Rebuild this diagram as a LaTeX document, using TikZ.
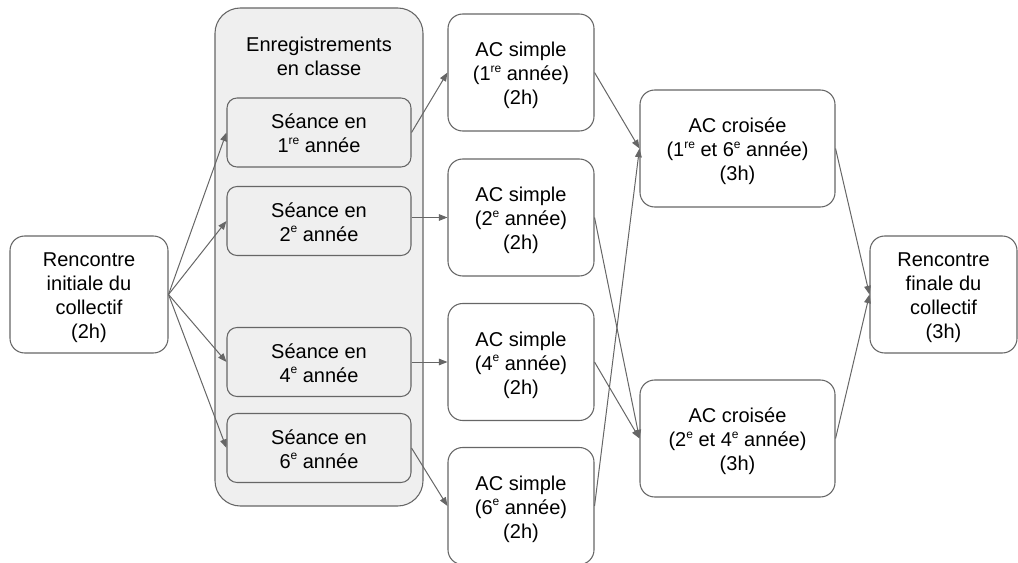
\documentclass[tikz,border=0pt]{standalone}
\usepackage{fontspec}
\setmainfont{Liberation Sans}
\usetikzlibrary{arrows.meta}
\definecolor{edgegray}{HTML}{666666}
\definecolor{boxfill}{HTML}{EFEFEF}
\newcommand\ts{\rule{0pt}{15.5pt}}
\newcommand\bs{\rule[-3.2pt]{0pt}{3.2pt}}
\newcommand\supx[1]{\raisebox{0.42em}{\fontsize{9pt}{9pt}\selectfont #1}}
\begin{document}
\begin{tikzpicture}[x=0.75pt,y=-0.75pt,
  every node/.style={font=\fontsize{15pt}{18pt}\selectfont, text=black, align=center, inner sep=0pt},
  box/.style={draw=edgegray, line width=0.8pt, rounded corners=11pt, fill=white, minimum height=87.75pt},
  simplebox/.style={box, minimum width=109.5pt},
  crossbox/.style={box, minimum width=146.25pt},
  seancebox/.style={draw=edgegray, line width=0.8pt, rounded corners=7.5pt, fill=boxfill, minimum width=138pt, minimum height=51.75pt},
  groupbox/.style={draw=edgegray, line width=0.8pt, rounded corners=19pt, fill=boxfill, minimum width=156pt, minimum height=373.5pt},
  conn/.style={draw=edgegray, line width=0.75pt, -{Triangle[length=6.5pt,width=5pt]}}
]
\useasboundingbox (0,0) rectangle (1018,563);

\node[groupbox] (grp) at (319,257) {};
\node (title) at (319,55) {\ts Enregistrements\\en classe\bs};

\node[box, minimum width=118.5pt] (init) at (89,294.5) {\ts Rencontre\\initiale du\\collectif\\(2h)\bs};

\node[seancebox] (s1) at (319,132.5) {\ts Séance en\\1\supx{re} année\bs};
\node[seancebox] (s2) at (319,221) {\ts Séance en\\2\supx{e} année\bs};
\node[seancebox] (s4) at (319,362) {\ts Séance en\\4\supx{e} année\bs};
\node[seancebox] (s6) at (319,448) {\ts Séance en\\6\supx{e} année\bs};

\node[simplebox] (a1) at (521,72.5) {\ts AC simple\\(1\supx{re} année)\\(2h)\bs};
\node[simplebox] (a2) at (521,217.5) {\ts AC simple\\(2\supx{e} année)\\(2h)\bs};
\node[simplebox] (a4) at (521,362) {\ts AC simple\\(4\supx{e} année)\\(2h)\bs};
\node[simplebox] (a6) at (521,506) {\ts AC simple\\(6\supx{e} année)\\(2h)\bs};

\node[crossbox] (c1) at (737.5,148.5) {\ts AC croisée\\(1\supx{re} et 6\supx{e} année)\\(3h)\bs};
\node[crossbox] (c2) at (737.5,438.5) {\ts AC croisée\\(2\supx{e} et 4\supx{e} année)\\(3h)\bs};

\node[box, minimum width=110.25pt] (fin) at (943.5,294.5) {\ts Rencontre\\finale du\\collectif\\(3h)\bs};

\draw[conn] (init.east) -- (s1.west);
\draw[conn] (init.east) -- (s2.west);
\draw[conn] (init.east) -- (s4.west);
\draw[conn] (init.east) -- (s6.west);

\draw[conn] (s1.east) -- (a1.west);
\draw[conn] (s2.east |- a2.west) -- (a2.west);
\draw[conn] (s4.east) -- (a4.west);
\draw[conn] (s6.east) -- (a6.west);

\draw[conn] (a1.east) -- (c1.west);
\draw[conn] (a6.east) -- (c1.west);
\draw[conn] (a2.east) -- (c2.west);
\draw[conn] (a4.east) -- (c2.west);

\draw[conn] (c1.east) -- (fin.west);
\draw[conn] (c2.east) -- (fin.west);
\end{tikzpicture}
\end{document}
